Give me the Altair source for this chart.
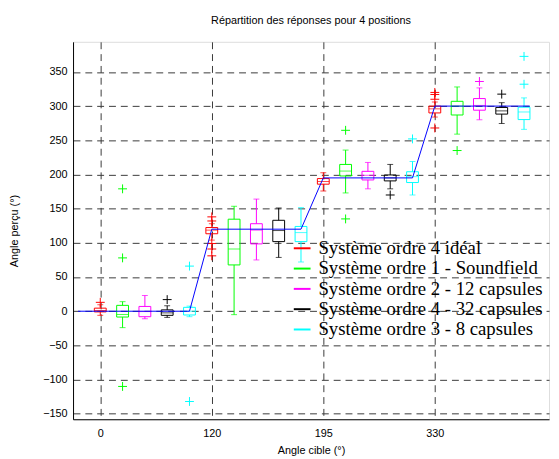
import altair as alt
import pandas as pd

# ---------------- data ----------------
series = [
    "Système ordre 4 idéal",
    "Système ordre 1 - Soundfield",
    "Système ordre 2 - 12 capsules",
    "Système ordre 4 - 32 capsules",
    "Système ordre 3 - 8 capsules",
]
colors = ["#FF0000", "#00FF00", "#FF00FF", "#000000", "#00FFFF"]

target_labels = ["0", "120", "195", "330"]
target_pos = [1, 6, 11, 16]

# box statistics per series, one value per target angle (0, 120, 195, 330)
w_low = [
    [-6, 104, 176, 284],
    [-24, -5, 173, 259],
    [-11, 75, 179, 280],
    [-9, 78.7, 179, 274.5],
    [-8, 72, 170, 266],
]
q1 = [
    [-1, 113.3, 185.8, 290],
    [-8.5, 67.7, 197.8, 287],
    [-8, 98.5, 192, 294],
    [-6, 101.8, 190.6, 288.3],
    [-5.5, 101.8, 188.2, 280.3],
]
median = [
    [1, 118.6, 189.6, 296],
    [-4.8, 91, 205, 300],
    [-0.5, 118.6, 198.8, 301],
    [-2.4, 118, 195, 293],
    [0, 115, 196.8, 291.4],
]
q3 = [
    [4.5, 122.4, 194, 300],
    [8.6, 134.6, 214.7, 307],
    [7, 128, 204.6, 311],
    [2, 133, 199.3, 298],
    [5.7, 124, 204, 298.4],
]
w_high = [
    [9.5, 128, 202.6, 306],
    [14, 153.5, 235.7, 328],
    [23, 164, 217.6, 326.6],
    [8, 151, 214.7, 305],
    [7.5, 151.5, 219, 312],
]
outliers = [
    [[13], [132, 138, 99, 91, 81], [], [310, 317, 320, 268]],
    [[78, -110, 179], [], [264.6, 135], [235]],
    [[], [], [], [336]],
    [[17], [], [170], [317.5]],
    [[66, -132], [], [252], [332, 372.7]],
]

# ideal response line
ideal_pos = [0, 5, 6, 10, 11, 15, 16, 20.25]
ideal_val = [0, 0, 120, 120, 195, 195, 300, 300]

y_ticks = [-150, -100, -50, 0, 50, 100, 150, 200, 250, 300, 350]

# ---------------- tables ----------------
rows, out_rows = [], []
for s, name in enumerate(series):
    for g in range(len(target_pos)):
        pos = target_pos[g] + s
        rows.append(dict(series=name, pos=pos, wlo=w_low[s][g], q1=q1[s][g],
                         med=median[s][g], q3=q3[s][g], whi=w_high[s][g]))
        for v in outliers[s][g]:
            out_rows.append(dict(series=name, pos=pos, val=v))
df = pd.DataFrame(rows)
df_out = pd.DataFrame(out_rows)
df_line = pd.DataFrame(dict(pos=ideal_pos, val=ideal_val))

label_expr = " : ".join(
    f"datum.value == {p} ? '{l}'" for p, l in zip(target_pos, target_labels)
) + " : ''"

FONT = "Liberation Sans"
grid_color = "#3a3a3a"

xscale = alt.Scale(domain=[0, 20.9], nice=False, zero=False)
yscale = alt.Scale(domain=[-158, 394], nice=False, zero=False)

xaxis = alt.Axis(values=target_pos, tickCount=len(target_pos), labelExpr=label_expr,
                 title="Angle cible (°)",
                 grid=True, gridColor=grid_color, gridDash=[7, 5], gridOpacity=1,
                 ticks=False, domainColor="black", labelFont=FONT, labelFontSize=11,
                 labelColor="black", labelPadding=8, labelOverlap=False, labelFlush=False,
                 titleFont=FONT, titleFontSize=11,
                 titleFontWeight="normal", titleColor="black", titleX=241.5, titleY=32,
                 titleBaseline="middle", titleAlign="center")
yaxis = alt.Axis(values=y_ticks, tickCount=len(y_ticks), title="Angle perçu (°)",
                 grid=True, gridColor=grid_color,
                 gridDash=[7, 5], gridOpacity=1, ticks=False, domainColor="black",
                 labelFont=FONT, labelFontSize=11, labelColor="black", labelPadding=6,
                 labelOverlap=False, labelFlush=False,
                 titleFont=FONT, titleFontSize=11, titleFontWeight="normal",
                 titleColor="black", titleX=-59, titleY=191.5, titleAngle=270,
                 titleAlign="center", titleBaseline="middle")

color_leg = alt.Color("series:N", scale=alt.Scale(domain=series, range=colors),
                      sort=series,
                      legend=alt.Legend(title=None, orient="none", legendX=223, legendY=200,
                                        symbolType="stroke", symbolStrokeWidth=2,
                                        symbolSize=289, labelFont="Liberation Serif",
                                        labelFontSize=19, labelColor="black",
                                        labelLimit=0, labelOffset=7, rowPadding=0.6,
                                        padding=0))
color_noleg = alt.Color("series:N", scale=alt.Scale(domain=series, range=colors),
                        legend=None)

base = alt.Chart(df)
x_enc = alt.X("pos:Q", scale=xscale, axis=xaxis)

whisk_lo = base.mark_rule(strokeWidth=1).encode(
    x=x_enc, y=alt.Y("wlo:Q", scale=yscale, axis=yaxis), y2="q1:Q", color=color_leg)
whisk_hi = base.mark_rule(strokeWidth=1).encode(
    x="pos:Q", y="q3:Q", y2="whi:Q", color=color_noleg)
cap_lo = base.mark_tick(orient="horizontal", size=6, thickness=1).encode(
    x="pos:Q", y="wlo:Q", color=color_noleg)
cap_hi = base.mark_tick(orient="horizontal", size=6, thickness=1).encode(
    x="pos:Q", y="whi:Q", color=color_noleg)
box = base.mark_bar(filled=False, size=12, strokeWidth=1).encode(
    x="pos:Q", y="q1:Q", y2="q3:Q", color=color_noleg)
med = base.mark_tick(orient="horizontal", size=12, thickness=1).encode(
    x="pos:Q", y="med:Q", color=color_noleg)
outl = alt.Chart(df_out).mark_point(shape="M-1,0L1,0M0,-1L0,1", size=81, filled=False,
                                    strokeWidth=1, opacity=1).encode(
    x="pos:Q", y="val:Q", color=color_noleg)
line = alt.Chart(df_line).mark_line(color="#0000FF", strokeWidth=1).encode(
    x="pos:Q", y="val:Q")

chart = alt.layer(whisk_lo, whisk_hi, cap_lo, cap_hi, box, med, outl, line).properties(
    width=483, height=383,
    title=alt.TitleParams("Répartition des réponses pour 4 positions", font=FONT,
                          fontSize=11, fontWeight="normal", color="black",
                          baseline="alphabetic", offset=7),
    autosize=alt.AutoSizeParams(type="none"),
    padding={"left": 66, "top": 31, "right": 2, "bottom": 37},
).configure_view(stroke="black", strokeWidth=1).configure(background="white")

chart.save("out.html", embed_options={"renderer": "svg", "actions": False})
